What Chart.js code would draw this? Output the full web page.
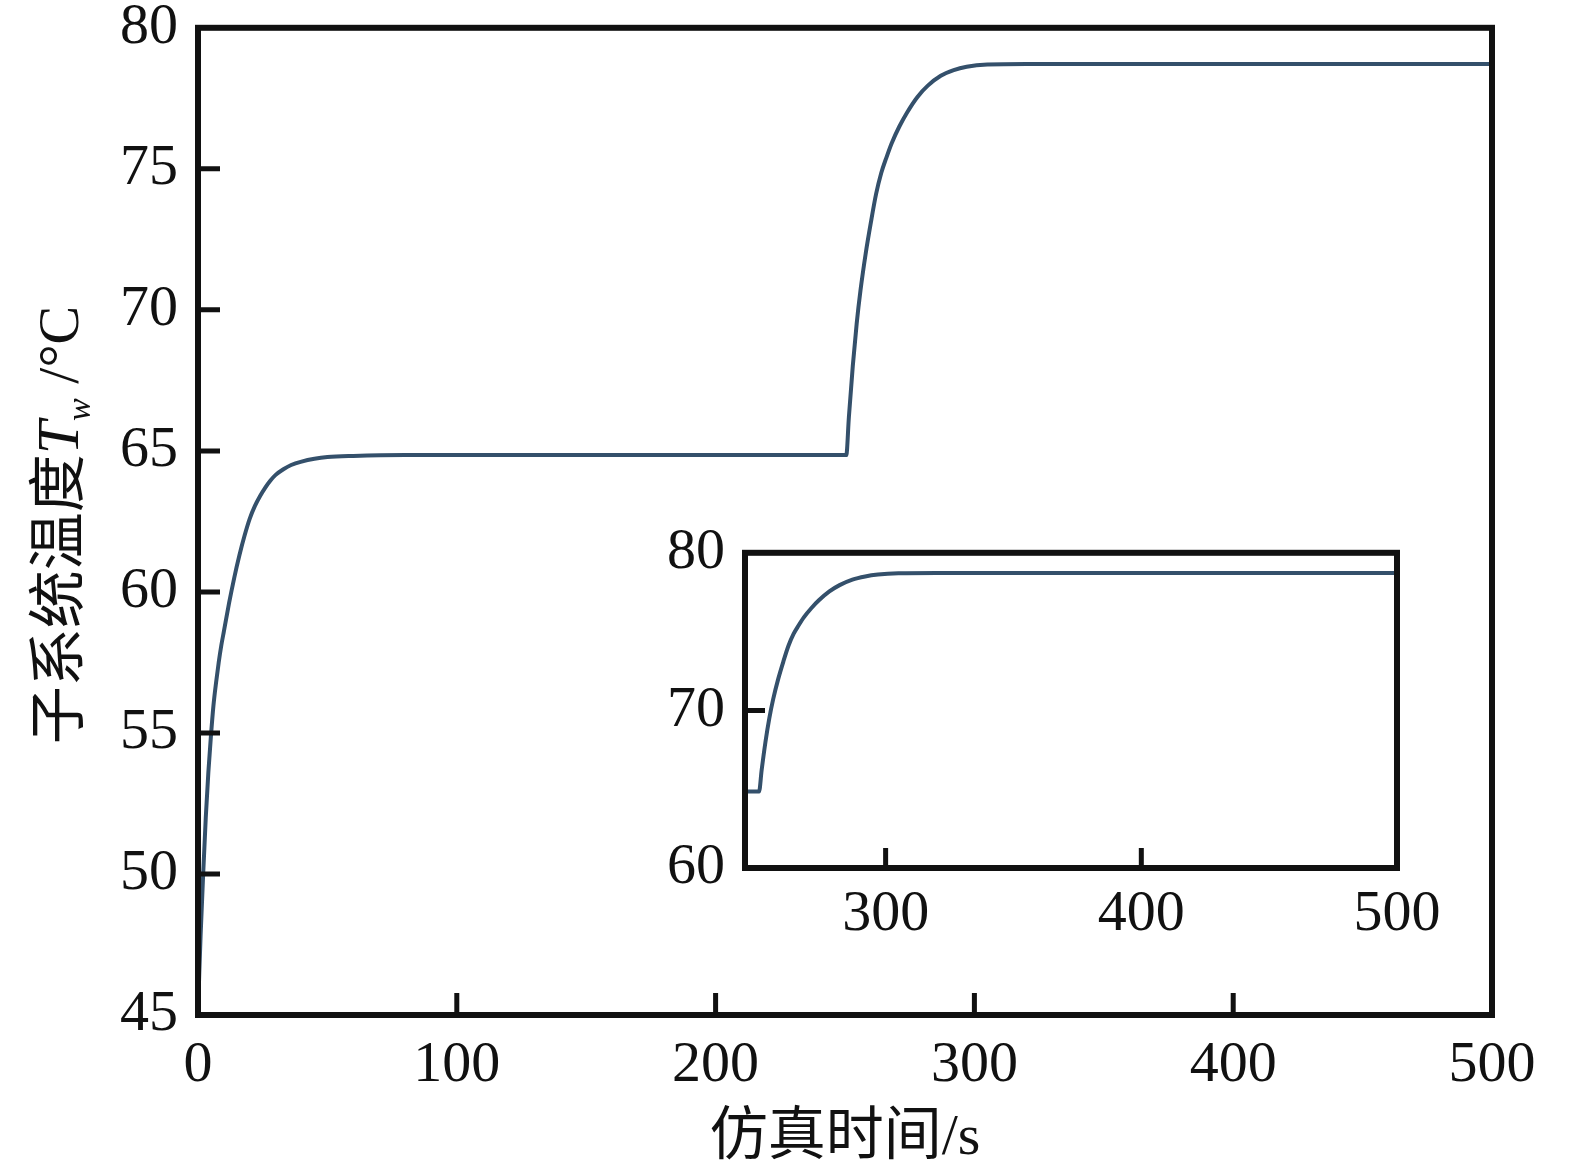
<!DOCTYPE html>
<html>
<head>
<meta charset="utf-8">
<script src="https://cdn.jsdelivr.net/npm/chart.js@4.4.1/dist/chart.umd.min.js"></script>
<style>
  body { margin: 0; background: #fff; overflow: hidden; }
  #wrap { position: relative; width: 1572px; height: 1172px; overflow: hidden; }
  #mainChart { position: absolute; left: 0; top: -27px; }
  #insetChart { position: absolute; left: 640px; top: 498px; }
</style>
</head>
<body>
<div id="wrap">
  <canvas id="mainChart" width="1572" height="1199"></canvas>
  <canvas id="insetChart" width="820" height="452"></canvas>
</div>
<script>
// data
const times = [0, 0.5, 1, 2, 3, 4, 5, 6, 7, 8, 9, 10, 12, 14, 16, 18, 20, 22, 24, 26, 28, 30, 33, 36, 40, 45, 50, 60, 80, 150, 250,
  250.5, 251.5, 253, 254.5, 256, 258, 260, 262, 264, 266, 268, 271, 274, 278, 282, 287, 292, 297, 305, 320, 500];
const temps = [45.0, 46.5, 47.8, 50.0, 52.0, 53.6, 54.9, 56.0, 56.8, 57.5, 58.1, 58.6, 59.6, 60.5, 61.3, 62.0, 62.6, 63.05, 63.4, 63.7, 63.95, 64.15, 64.35, 64.5, 64.62, 64.72, 64.78, 64.82, 64.85, 64.85, 64.85,
  64.85, 66.2, 68.0, 69.5, 70.7, 72.0, 73.1, 74.1, 74.85, 75.4, 75.9, 76.5, 77.0, 77.55, 77.95, 78.3, 78.5, 78.62, 78.7, 78.72, 78.72];
const xTicksMain = [0, 100, 200, 300, 400, 500];
const xTicksInset = [300, 400, 500];
const yTicksInset = [60, 70, 80];

const points = times.map((t, i) => ({x: t, y: temps[i]}));
const lineColor = '#34506b';
const ink = '#111';
const tickFont = {family: '"Liberation Serif", "Times New Roman", serif', size: 58};

// frame + inward ticks
const framePlugin = {
  id: 'frame',
  afterDraw(chart) {
    const {ctx, chartArea: a, scales} = chart;
    const xs = scales.x, ys = scales.y;
    const len = chart.canvas.id === 'insetChart' ? 20 : 22;
    ctx.save();
    ctx.strokeStyle = ink;
    ctx.lineWidth = 5;
    ctx.beginPath();
    xs.ticks.forEach(t => {
      const px = xs.getPixelForValue(t.value);
      if (px > a.left + 3 && px < a.right - 3) {
        ctx.moveTo(px, a.bottom);
        ctx.lineTo(px, a.bottom - len);
      }
    });
    ys.ticks.forEach(t => {
      const py = ys.getPixelForValue(t.value);
      if (py > a.top + 3 && py < a.bottom - 3) {
        ctx.moveTo(a.left, py);
        ctx.lineTo(a.left + len, py);
      }
    });
    ctx.stroke();
    ctx.lineWidth = 6;
    ctx.strokeRect(a.left, a.top, a.right - a.left, a.bottom - a.top);
    ctx.restore();
  }
};

// axis titles for the main chart (y title has italic T with subscript w)
const titlePlugin = {
  id: 'titles',
  afterDraw(chart) {
    const {ctx, chartArea: a} = chart;
    ctx.save();
    ctx.fillStyle = ink;
    ctx.textBaseline = 'alphabetic';
    const cjk = '58px "Liberation Serif", "Noto Sans CJK SC", serif';
    ctx.font = cjk;
    ctx.textAlign = 'center';
    ctx.fillText('仿真时间/s', (a.left + a.right) / 2, 1154 + 27);

    ctx.translate(78, 525 + 27);
    ctx.rotate(-Math.PI / 2);
    ctx.textAlign = 'left';
    const parts = [
      {t: '子系统温度', f: cjk, dy: 0},
      {t: 'T', f: 'italic 60px "Liberation Serif", serif', dy: 0},
      {t: 'w', f: 'italic 34px "Liberation Serif", serif', dy: 12},
      {t: ' /°C', f: '58px "Liberation Serif", serif', dy: 0}
    ];
    let total = 0;
    parts.forEach(p => { ctx.font = p.f; p.w = ctx.measureText(p.t).width; total += p.w; });
    let x = -total / 2;
    parts.forEach(p => { ctx.font = p.f; ctx.fillText(p.t, x, p.dy); x += p.w; });
    ctx.restore();
  }
};

new Chart(document.getElementById('mainChart'), {
  type: 'line',
  data: {
    datasets: [{
      data: points,
      borderColor: lineColor,
      borderWidth: 4,
      pointRadius: 0,
      cubicInterpolationMode: 'monotone'
    }]
  },
  options: {
    responsive: false,
    animation: false,
    layout: {padding: {left: 0, top: 28, right: 80, bottom: 0}},
    plugins: {legend: {display: false}, tooltip: {enabled: false}},
    scales: {
      x: {
        type: 'linear', min: 0, max: 500,
        afterBuildTicks: s => { s.ticks = xTicksMain.map(v => ({value: v})); },
        afterFit: s => { s.height = 157; },
        grid: {display: false, drawTicks: false},
        border: {display: false},
        ticks: {font: tickFont, color: ink, padding: 16, maxRotation: 0}
      },
      y: {
        min: 45, max: 80,
        ticks: {stepSize: 5, font: tickFont, color: ink, padding: 20},
        afterFit: s => { s.width = 198; },
        grid: {display: false, drawTicks: false},
        border: {display: false}
      }
    }
  },
  plugins: [framePlugin, titlePlugin]
});

new Chart(document.getElementById('insetChart'), {
  type: 'line',
  data: {
    datasets: [{
      data: points,
      borderColor: lineColor,
      borderWidth: 4,
      pointRadius: 0,
      cubicInterpolationMode: 'monotone'
    }]
  },
  options: {
    responsive: false,
    animation: false,
    layout: {padding: {left: 0, top: 20, right: 63, bottom: 0}},
    plugins: {legend: {display: false}, tooltip: {enabled: false}},
    scales: {
      x: {
        type: 'linear', min: 245, max: 500,
        afterBuildTicks: s => { s.ticks = xTicksInset.map(v => ({value: v})); },
        afterFit: s => { s.height = 82; },
        grid: {display: false, drawTicks: false},
        border: {display: false},
        ticks: {font: tickFont, color: ink, padding: 12, maxRotation: 0}
      },
      y: {
        min: 60, max: 80,
        afterBuildTicks: s => { s.ticks = yTicksInset.map(v => ({value: v})); },
        ticks: {font: tickFont, color: ink, padding: 20},
        afterFit: s => { s.width = 105; },
        grid: {display: false, drawTicks: false},
        border: {display: false}
      }
    }
  },
  plugins: [framePlugin]
});
</script>
</body>
</html>
